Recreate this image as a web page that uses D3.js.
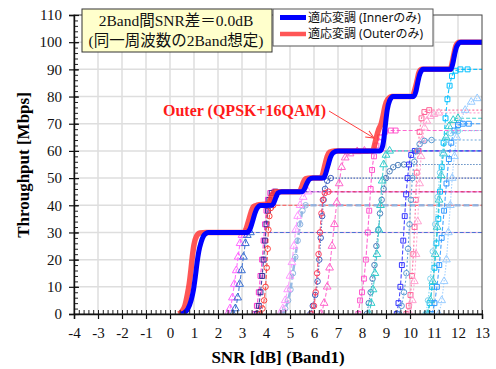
<!DOCTYPE html>
<html>
<head>
<meta charset="utf-8">
<script src="https://cdn.jsdelivr.net/npm/d3@7"></script>
<style>
  body { margin: 0; background: #fff; }
  svg { display: block; }
  .tick text { font-family: "Liberation Serif", "Times New Roman", serif; font-size: 15px; fill: #111; }
</style>
</head>
<body>
<div id="chart"></div>
<script>
// x ticks / y ticks
const xTicks = d3.range(-4, 14, 1);
const yTicks = d3.range(0, 111, 10);

// adaptive modulation, Inner only (blue) and Outer only (red)
const innerCurve = [[0.45,0],[0.6,0.5],[0.75,2],[0.88,5],[0.98,9],[1.06,14],[1.13,19],[1.2,23],[1.3,26.5],[1.42,29],[1.6,30],
  [3.2,30],[3.32,31],[3.42,33.5],[3.52,36.5],[3.62,38.8],[3.78,39.9],[4.25,40],[4.33,41],[4.42,43],[4.5,44.5],[4.65,45],
  [5.5,45],[5.6,46],[5.7,48],[5.8,49.5],[5.95,50],[6.4,50],[6.48,51.5],[6.58,54.5],[6.68,57.5],[6.8,59.3],[7.0,60],
  [8.75,60],[8.85,61.5],[8.92,65],[8.98,70],[9.05,75],[9.15,78.5],[9.3,80],[10.15,80],[10.25,82],[10.33,85.5],[10.42,88.5],[10.55,90],
  [11.7,90],[11.78,92],[11.86,95.5],[11.95,98.5],[12.12,100],[13,100]];
const outerCurve = [[0.35,0],[0.5,1],[0.62,3],[0.72,7],[0.8,11],[0.87,16],[0.93,21],[1.0,25.5],[1.1,28.5],[1.25,29.8],[1.5,30],
  [3.08,30],[3.18,31.5],[3.28,34.5],[3.38,37.5],[3.48,39.5],[3.62,40],[4.1,40.5],[4.18,42],[4.27,44],[4.38,45],
  [5.4,45],[5.48,46.5],[5.56,48.5],[5.66,49.8],[5.85,50],[6.3,50],[6.38,52],[6.46,55],[6.55,58],[6.65,59.5],[6.85,60],
  [8.45,60],[8.52,62],[8.6,65],[8.7,68],[8.8,70],[8.88,73],[8.96,76.5],[9.08,79],[9.25,80],[10.1,80],[10.2,82.5],[10.3,86],[10.38,89],[10.5,90],
  [11.68,90],[11.76,92.5],[11.84,96],[11.92,98.8],[12.05,100],[13,100]];

// single modulation curves (snr, throughput); last point is the plateau carried to the edge
const m1 = [[2.4,0],[2.5,2],[2.6,6],[2.68,11],[2.76,16],[2.84,21],[2.92,26],[3.0,29],[3.15,30],[13,30]];
const m2 = [[2.62,0],[2.72,2],[2.82,6],[2.9,11],[2.98,16],[3.06,21],[3.14,26],[3.22,29],[3.35,30],[13,30]];
const m3 = [[3.55,0],[3.62,3],[3.7,8],[3.77,14],[3.84,20],[3.9,27],[3.96,33],[4.02,38],[4.08,42],[4.18,44.5],[4.35,45],[13,45]];
const m4 = [[3.62,0],[3.7,3],[3.77,8],[3.84,14],[3.9,20],[3.96,27],[4.02,33],[4.08,38],[4.14,42],[4.24,44.5],[4.4,45],[13,45]];
const m5 = [[3.75,0],[3.85,2],[3.92,5],[3.98,10],[4.03,17],[4.07,24],[4.1,31],[4.14,36],[4.2,39],[4.3,40],[13,40]];
const m6 = [[4.68,0],[4.8,2],[4.92,5],[5.02,9],[5.12,15],[5.22,21],[5.32,27],[5.42,33],[5.52,38],[5.65,40],[13,40]];
const m7 = [[4.58,0],[4.7,2],[4.8,5],[4.9,9],[5.0,14],[5.08,19],[5.16,25],[5.24,31],[5.32,36],[5.42,40],[5.55,43],[5.75,45],[13,45]];
const m8 = [[5.85,0],[5.95,3],[6.05,7],[6.15,12],[6.22,20],[6.28,28],[6.34,36],[6.4,42],[6.46,46],[6.55,49],[6.7,50],[13,50]];
const m9 = [[5.9,0],[6.0,3],[6.07,8],[6.13,15],[6.19,22],[6.25,30],[6.31,37],[6.37,42],[6.45,44.5],[6.6,45],[13,45]];
const m10 = [[6.3,0],[6.42,4],[6.55,10],[6.65,17],[6.75,25],[6.85,33],[6.95,41],[7.05,48],[7.15,54],[7.3,57.5],[7.5,59],[7.8,59.8],[8.1,60],[13,60]];
const m11 = [[7.85,0],[7.92,5],[8.0,8],[8.08,13],[8.16,20],[8.24,30],[8.3,38],[8.36,46],[8.42,53],[8.5,58],[8.6,62],[8.75,65],[8.95,67],[9.2,67.5],[9.4,67.5],[13,67.5]];
const m12 = [[8.2,0],[8.28,4],[8.36,8],[8.44,13],[8.52,18],[8.6,25],[8.68,31],[8.75,37],[8.82,42],[8.9,46],[9.0,50],[9.15,52.5],[9.3,54],[9.5,54.8],[9.75,55],[13,55]];
const m13 = [[8.3,0],[8.38,4],[8.46,9],[8.54,15],[8.62,22],[8.7,31],[8.77,40],[8.84,49],[8.9,55],[9.0,58.5],[9.15,60],[13,60]];
const m14 = [[9.45,0],[9.52,4],[9.6,10],[9.66,18],[9.72,27],[9.78,36],[9.84,44],[9.9,50],[9.96,55],[10.05,58.5],[10.2,60],[10.35,60],[13,60]];
const m15 = [[9.85,0],[9.95,3],[10.02,7],[10.08,14],[10.14,22],[10.19,32],[10.24,42],[10.28,52],[10.33,60],[10.4,67],[10.48,72],[10.6,74.3],[10.8,75],[13,75]];
const m16 = [[10.0,0],[10.1,5],[10.18,12],[10.25,22],[10.32,34],[10.4,48],[10.46,58],[10.52,64],[10.6,68.5],[10.7,71],[10.85,72.8],[11.0,73.5],[11.2,74],[13,74]];
const m17 = [[9.55,0],[9.65,3],[9.75,8],[9.85,15],[9.92,24],[9.98,33],[10.04,42],[10.1,50],[10.18,56],[10.28,60],[10.4,62.5],[10.6,63.7],[10.9,64],[13,64]];
const m18 = [[10.7,0],[10.82,4],[10.92,10],[11.02,17],[11.1,26],[11.18,35],[11.25,45],[11.32,54],[11.4,63],[11.48,72],[11.56,79],[11.65,84],[11.75,87.5],[11.9,89.5],[12.1,90],[12.4,90],[13,90]];
const m19 = [[10.75,0],[10.85,5],[10.95,12],[11.05,22],[11.13,32],[11.21,42],[11.3,51],[11.4,59],[11.5,65],[11.62,69],[11.8,71.3],[12.0,72],[13,72]];
const m20 = [[11.2,0],[11.32,5],[11.42,12],[11.52,20],[11.6,30],[11.68,40],[11.76,50],[11.85,58],[11.95,65],[12.1,70.5],[12.3,75],[12.55,78],[12.8,79.3],[13,79.7]];
const m21 = [[10.9,0],[11.02,4],[11.12,10],[11.22,18],[11.32,28],[11.42,38],[11.52,48],[11.62,57],[11.72,63],[11.85,67.5],[12.0,69.5],[12.2,70],[12.45,70],[13,70]];
const m22 = [[10.65,0],[10.75,5],[10.85,13],[10.95,23],[11.05,33],[11.15,43],[11.25,52],[11.35,59],[11.5,64],[11.7,66.5],[12.0,67.3],[13,67.5]];

const modCurves = [m1,m2,m3,m4,m5,m6,m7,m8,m9,m10,m11,m12,m13,m14,m15,m16,m17,m18,m19,m20,m21,m22];
const modStyles = [
  {c:"#ff66ff", m:"tri", d:"4,2"}, {c:"#3a6fd0", m:"tri", d:"4,2"},
  {c:"#ff33cc", m:"sq", d:"4,2"}, {c:"#333399", m:"sq", d:"4,2"},
  {c:"#ff4040", m:"ci", d:"4,2"}, {c:"#8db4e2", m:"ci", d:"6,3", w:2.5},
  {c:"#ff99ff", m:"tri", d:"4,2"}, {c:"#4060c0", m:"ci", d:"1.5,1.5"},
  {c:"#ff4060", m:"ci", d:"4,2"}, {c:"#ff66cc", m:"tri", d:"4,2"},
  {c:"#ff55cc", m:"sq", d:"4,2"}, {c:"#4f81bd", m:"ci", d:"1.5,1.5"},
  {c:"#33cccc", m:"tri", d:"4,2"}, {c:"#3333ff", m:"sq", d:"4,2"},
  {c:"#ff6699", m:"sq", d:"2,2"}, {c:"#ffa0d0", m:"tri", d:"2,2"},
  {c:"#5b9bd5", m:"ci", d:"2,2"}, {c:"#00bfff", m:"sq", d:"4,2"},
  {c:"#33cccc", m:"tri", d:"4,2"}, {c:"#99ccff", m:"tri", d:"1.5,1.5"},
  {c:"#3399ff", m:"sq", d:"4,2"}, {c:"#7fd4f0", m:"ci", d:"1.5,1.5"}
];

const W = 496, H = 369;
const x = d3.scaleLinear().domain([-4, 13]).range([74, 482]);
const y = d3.scaleLinear().domain([0, 110]).range([314, 15]);

const svg = d3.select("#chart").append("svg").attr("width", W).attr("height", H);

// grid
svg.append("g").selectAll("line").data(xTicks.slice(1, -1)).join("line")
  .attr("x1", d => x(d)).attr("x2", d => x(d)).attr("y1", y(0)).attr("y2", y(110))
  .attr("stroke", "#dedede").attr("stroke-width", 1.5);
svg.append("g").selectAll("line").data(yTicks.slice(1, -1)).join("line")
  .attr("x1", x(-4)).attr("x2", x(13)).attr("y1", d => y(d)).attr("y2", d => y(d))
  .attr("stroke", "#dedede").attr("stroke-width", 1.5);

svg.append("defs").append("clipPath").attr("id", "clip")
  .append("rect").attr("x", x(-4)).attr("y", y(110)).attr("width", x(13) - x(-4)).attr("height", y(0) - y(110));

const plot = svg.append("g").attr("clip-path", "url(#clip)");
const line = d3.line().x(d => x(d[0])).y(d => y(d[1])).curve(d3.curveMonotoneX);
const symbols = { tri: d3.symbolTriangle, sq: d3.symbolSquare, ci: d3.symbolCircle };

modCurves.forEach((pts, i) => {
  const s = modStyles[i];
  plot.append("path").datum(pts).attr("d", line)
    .attr("fill", "none").attr("stroke", s.c).attr("stroke-width", s.w || 1.1)
    .attr("stroke-dasharray", s.d).attr("opacity", 0.9);
  plot.append("g").selectAll("path").data(pts.slice(0, -1)).join("path")
    .attr("transform", d => `translate(${x(d[0])},${y(d[1])})`)
    .attr("d", d3.symbol(symbols[s.m], s.m === "tri" ? 26 : 24))
    .attr("fill", "none").attr("stroke", s.c).attr("stroke-width", 1);
});

// Outer only (red), then Inner only (blue) on top
plot.append("path").datum(outerCurve).attr("d", line)
  .attr("fill", "none").attr("stroke", "#ff3838").attr("stroke-width", 5.5)
  .attr("stroke-opacity", 0.85).attr("stroke-linejoin", "round");
plot.append("path").datum(innerCurve).attr("d", line)
  .attr("fill", "none").attr("stroke", "#0000ff").attr("stroke-width", 5)
  .attr("stroke-linejoin", "round");

// frame on top/right
svg.append("rect").attr("x", x(-4)).attr("y", y(110)).attr("width", x(13) - x(-4)).attr("height", y(0) - y(110))
  .attr("fill", "none").attr("stroke", "#444").attr("stroke-width", 1);

// x axis: major ticks outward, minor ticks inward
const xMinor = d3.range(-4, 13.001, 0.2);
svg.append("g").attr("transform", `translate(0,${y(0)})`)
  .call(d3.axisBottom(x).tickValues(xMinor).tickSize(-4).tickFormat(""))
  .call(g => g.select(".domain").remove())
  .selectAll("line").attr("stroke", "#222");
svg.append("g").attr("transform", `translate(0,${y(0)})`)
  .call(d3.axisBottom(x).tickValues(xTicks).tickSize(5).tickPadding(8).tickFormat(d => String(d)))
  .call(g => g.select(".domain").attr("stroke", "#111").attr("stroke-width", 1.4))
  .call(g => g.selectAll(".tick line").attr("stroke", "#111").attr("stroke-width", 1.2));

// y axis
const yMinor = d3.range(0, 110.001, 2);
svg.append("g").attr("transform", `translate(${x(-4)},0)`)
  .call(d3.axisLeft(y).tickValues(yMinor).tickSize(-4).tickFormat(""))
  .call(g => g.select(".domain").remove())
  .selectAll("line").attr("stroke", "#222");
svg.append("g").attr("transform", `translate(${x(-4)},0)`)
  .call(d3.axisLeft(y).tickValues(yTicks).tickSize(5).tickPadding(7))
  .call(g => g.select(".domain").attr("stroke", "#111").attr("stroke-width", 1.4))
  .call(g => g.selectAll(".tick line").attr("stroke", "#111").attr("stroke-width", 1.2).attr("x2", 5).attr("x1", -5));

// axis titles
svg.append("text").attr("x", 278).attr("y", 363).attr("text-anchor", "middle")
  .style("font-family", "'Liberation Serif', serif").style("font-weight", "bold").style("font-size", "17px")
  .text("SNR [dB] (Band1)");
svg.append("text").attr("transform", "translate(29,165) rotate(-90)").attr("text-anchor", "middle")
  .style("font-family", "'Liberation Serif', serif").style("font-weight", "bold").style("font-size", "17px")
  .text("Throughput [Mbps]");

// condition box
svg.append("rect").attr("x", 82).attr("y", 9).attr("width", 190).attr("height", 43)
  .attr("fill", "#ffffcc").attr("stroke", "#333").attr("stroke-width", 1);
const boxText = svg.append("text").attr("text-anchor", "middle")
  .style("font-family", "'Liberation Serif', 'Noto Sans CJK JP', serif").style("font-size", "15.5px").attr("fill", "#111");
boxText.append("tspan").attr("x", 176).attr("y", 26).text("2Band間SNR差＝0.0dB");
boxText.append("tspan").attr("x", 176).attr("y", 46).text("(同一周波数の2Band想定)");

// legend
svg.append("rect").attr("x", 273).attr("y", 9).attr("width", 160).attr("height", 37)
  .attr("fill", "#fff").attr("stroke", "#555").attr("stroke-width", 1);
const legendItems = [
  { label: "適応変調 (Innerのみ)", color: "#0000ff", w: 5, op: 1 },
  { label: "適応変調 (Outerのみ)", color: "#ff3838", w: 4.5, op: 0.85 }
];
legendItems.forEach((d, i) => {
  const ly = 17.5 + i * 16.5;
  svg.append("line").attr("x1", 280).attr("x2", 306).attr("y1", ly).attr("y2", ly)
    .attr("stroke", d.color).attr("stroke-width", d.w).attr("stroke-opacity", d.op);
  svg.append("text").attr("x", 308).attr("y", ly + 4.2)
    .style("font-family", "'Noto Sans', 'Noto Sans CJK JP', sans-serif").style("font-size", "12px").attr("fill", "#111")
    .text(d.label);
});

// annotation
svg.append("defs").append("marker").attr("id", "arr").attr("viewBox", "0 0 10 10")
  .attr("refX", 9).attr("refY", 5).attr("markerWidth", 9).attr("markerHeight", 9).attr("orient", "auto")
  .append("path").attr("d", "M0,1 L9,5 L0,9").attr("fill", "none").attr("stroke", "#ff4040").attr("stroke-width", 1.2);
svg.append("line").attr("x1", 329).attr("y1", 111).attr("x2", 374).attr("y2", 138)
  .attr("stroke", "#ff4040").attr("stroke-width", 1).attr("marker-end", "url(#arr)");
svg.append("text").attr("x", 163).attr("y", 116)
  .style("font-family", "'Liberation Serif', serif").style("font-weight", "bold").style("font-size", "16px")
  .attr("fill", "#ff1a1a").text("Outer (QPSK+16QAM)");
</script>
</body>
</html>
